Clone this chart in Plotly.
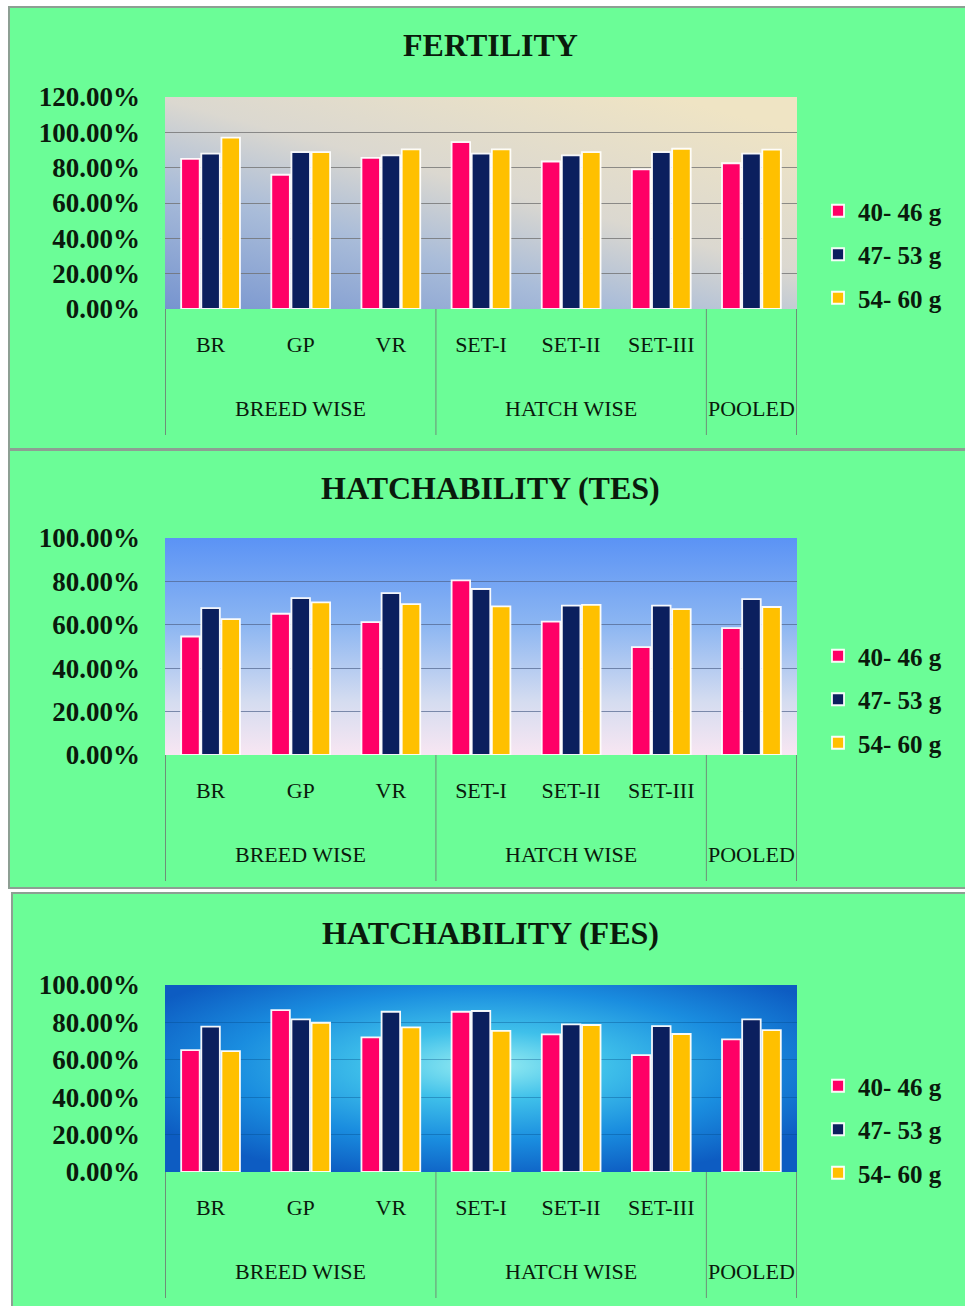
import base64
import plotly.graph_objects as go

W, H = 965, 1306

# ---- data -------------------------------------------------------------
categories = ["BR", "GP", "VR", "SET-I", "SET-II", "SET-III", "POOLED"]
category_labels = ["BR", "GP", "VR", "SET-I", "SET-II", "SET-III", ""]
group_labels = ["BREED WISE", "HATCH WISE", "POOLED"]
group_anchor = ["GP", "SET-II", "POOLED"]
group_edges = [-0.5, 2.5, 5.5, 6.5]
series_names = ["40- 46 g", "47- 53 g", "54- 60 g"]

fertility_40_46 = [85.0, 76.0, 85.5, 94.5, 83.5, 79.0, 82.5]
fertility_47_53 = [88.0, 88.8, 87.0, 88.0, 87.0, 88.8, 88.0]
fertility_54_60 = [97.0, 88.8, 90.4, 90.4, 88.8, 90.7, 90.2]

hatch_tes_40_46 = [54.6, 65.1, 61.2, 80.5, 61.5, 49.7, 58.5]
hatch_tes_47_53 = [67.7, 72.3, 74.6, 76.5, 68.8, 68.8, 71.8]
hatch_tes_54_60 = [62.6, 70.3, 69.5, 68.5, 69.2, 67.2, 68.2]

hatch_fes_40_46 = [65.2, 86.6, 72.0, 85.7, 73.6, 62.5, 70.9]
hatch_fes_47_53 = [77.7, 81.6, 85.7, 86.1, 78.9, 78.0, 81.6]
hatch_fes_54_60 = [64.6, 79.8, 77.3, 75.5, 78.6, 73.8, 75.9]

bar_colors = ["#FF0066", "#0B1F5E", "#FFC000"]
GREEN = "#6BFD97"
FONT = "Liberation Serif"
INK = "#0a1a0c"


def px(x):
    return x / W


def py(y):
    return 1 - y / H


def svg_uri(body):
    svg = ("<svg xmlns='http://www.w3.org/2000/svg' viewBox='0 0 100 100' "
           "preserveAspectRatio='none' width='100' height='100'>" + body + "</svg>")
    return "data:image/svg+xml;base64," + base64.b64encode(svg.encode()).decode()


bg_fertility = svg_uri(
    "<defs><linearGradient id='g' x1='0' y1='1' x2='0.8' y2='0'>"
    "<stop offset='0' stop-color='#7694cf'/>"
    "<stop offset='0.35' stop-color='#a9bcd9'/>"
    "<stop offset='0.6' stop-color='#dbd8d0'/>"
    "<stop offset='1' stop-color='#efe4c4'/>"
    "</linearGradient></defs><rect width='100' height='100' fill='url(#g)'/>")

bg_tes = svg_uri(
    "<defs><linearGradient id='g' x1='0' y1='0' x2='0' y2='1'>"
    "<stop offset='0' stop-color='#5b93f5'/>"
    "<stop offset='0.4' stop-color='#8cb6f2'/>"
    "<stop offset='0.75' stop-color='#d4dcf0'/>"
    "<stop offset='1' stop-color='#f8e6f2'/>"
    "</linearGradient></defs><rect width='100' height='100' fill='url(#g)'/>")

bg_fes = svg_uri(
    "<defs><radialGradient id='g' cx='0.51' cy='0.43' r='0.62'>"
    "<stop offset='0' stop-color='#9aeef2'/>"
    "<stop offset='0.3' stop-color='#3fc0ea'/>"
    "<stop offset='0.65' stop-color='#1a8ddf'/>"
    "<stop offset='1' stop-color='#0d5cc2'/>"
    "</radialGradient></defs><rect width='100' height='100' fill='url(#g)'/>")

panels = [
    dict(title="FERTILITY", series=[fertility_40_46, fertility_47_53, fertility_54_60],
         ymax=120, top=97, bottom=309, title_y=45, legend_y=188,
         box=(9, 7, 975, 449), bg=bg_fertility, grid="rgba(110,110,110,0.75)"),
    dict(title="HATCHABILITY (TES)", series=[hatch_tes_40_46, hatch_tes_47_53, hatch_tes_54_60],
         ymax=100, top=538, bottom=755, title_y=488, legend_y=633,
         box=(9, 450, 975, 888), bg=bg_tes, grid="rgba(80,100,140,0.7)"),
    dict(title="HATCHABILITY (FES)", series=[hatch_fes_40_46, hatch_fes_47_53, hatch_fes_54_60],
         ymax=100, top=985, bottom=1172, title_y=933, legend_y=1063,
         box=(12, 893, 975, 1312), bg=bg_fes, grid="rgba(0,70,130,0.35)"),
]

fig = go.Figure()
shapes, annotations, images = [], [], []
PLOT_L, PLOT_R = 165, 797

for i, p in enumerate(panels):
    n = i + 1
    xa = "x" if n == 1 else f"x{n}"
    ya = "y" if n == 1 else f"y{n}"
    leg = "legend" if n == 1 else f"legend{n}"

    for name, vals, col in zip(series_names, p["series"], bar_colors):
        fig.add_trace(go.Bar(
            x=categories, y=vals, name=name, xaxis=xa, yaxis=ya,
            marker=dict(color=col, line=dict(color="rgba(255,255,255,0.95)", width=1.8)),
            legend=leg, legendgroup=f"{n}-{name}",
        ))

    fig.layout[("xaxis" if n == 1 else f"xaxis{n}")] = dict(
        domain=[px(PLOT_L), px(PLOT_R)], anchor=ya, type="category",
        tickvals=categories, ticktext=category_labels, showgrid=False,
        showline=False, ticks="", ticklabelstandoff=20, automargin=False,
        tickfont=dict(family=FONT, size=22, color=INK), fixedrange=True,
    )
    fig.layout[("yaxis" if n == 1 else f"yaxis{n}")] = dict(
        domain=[py(p["bottom"]), py(p["top"])], anchor=xa,
        range=[0, p["ymax"]], dtick=20, tickformat=".2f", ticksuffix="%",
        showgrid=True, gridcolor=p["grid"], gridwidth=1, zeroline=False,
        showline=False, ticks="", ticklabelstandoff=24, automargin=False,
        tickfont=dict(family=FONT, size=27, color=INK, weight="bold"), fixedrange=True,
    )

    fig.layout[leg] = dict(
        x=px(818), y=py(p["legend_y"]), xanchor="left", yanchor="top",
        bgcolor="rgba(0,0,0,0)",
        font=dict(family=FONT, size=25, color=INK, weight="bold"),
        tracegroupgap=8, itemclick=False, itemdoubleclick=False,
    )

    # panel card
    x0, y0, x1, y1 = p["box"]
    shapes.append(dict(type="rect", xref="paper", yref="paper", layer="below",
                       x0=px(x0), x1=px(x1), y0=py(y1), y1=py(y0),
                       fillcolor=GREEN, line=dict(color="#8d9f93", width=2)))

    # plot-area background
    images.append(dict(source=p["bg"], xref=f"{xa} domain", yref=f"{ya} domain",
                       x=0, y=1, sizex=1, sizey=1, xanchor="left", yanchor="top",
                       sizing="stretch", layer="below"))

    # group dividers below the axis
    for e in group_edges:
        shapes.append(dict(type="line", xref=xa, yref="paper",
                           x0=e, x1=e, y0=py(p["bottom"]), y1=py(p["bottom"] + 126),
                           line=dict(color="#6e8f78", width=1)))

    for lab, anchor in zip(group_labels, group_anchor):
        annotations.append(dict(text=lab, xref=xa, yref="paper", x=anchor,
                                y=py(p["bottom"] + 99), showarrow=False,
                                xanchor="center", yanchor="middle",
                                font=dict(family=FONT, size=22, color=INK)))

    annotations.append(dict(text=f"<b>{p['title']}</b>", xref="paper", yref="paper",
                            x=px(491), y=py(p["title_y"]), showarrow=False,
                            xanchor="center", yanchor="middle",
                            font=dict(family=FONT, size=32, color=INK)))

fig.update_layout(
    width=W, height=H, margin=dict(l=0, r=0, t=0, b=0),
    paper_bgcolor="white", plot_bgcolor="rgba(0,0,0,0)",
    barmode="group", bargap=0.33, bargroupgap=0.08,
    shapes=shapes, annotations=annotations, images=images,
    font=dict(family=FONT, color=INK),
)

fig.write_html("out.html")
